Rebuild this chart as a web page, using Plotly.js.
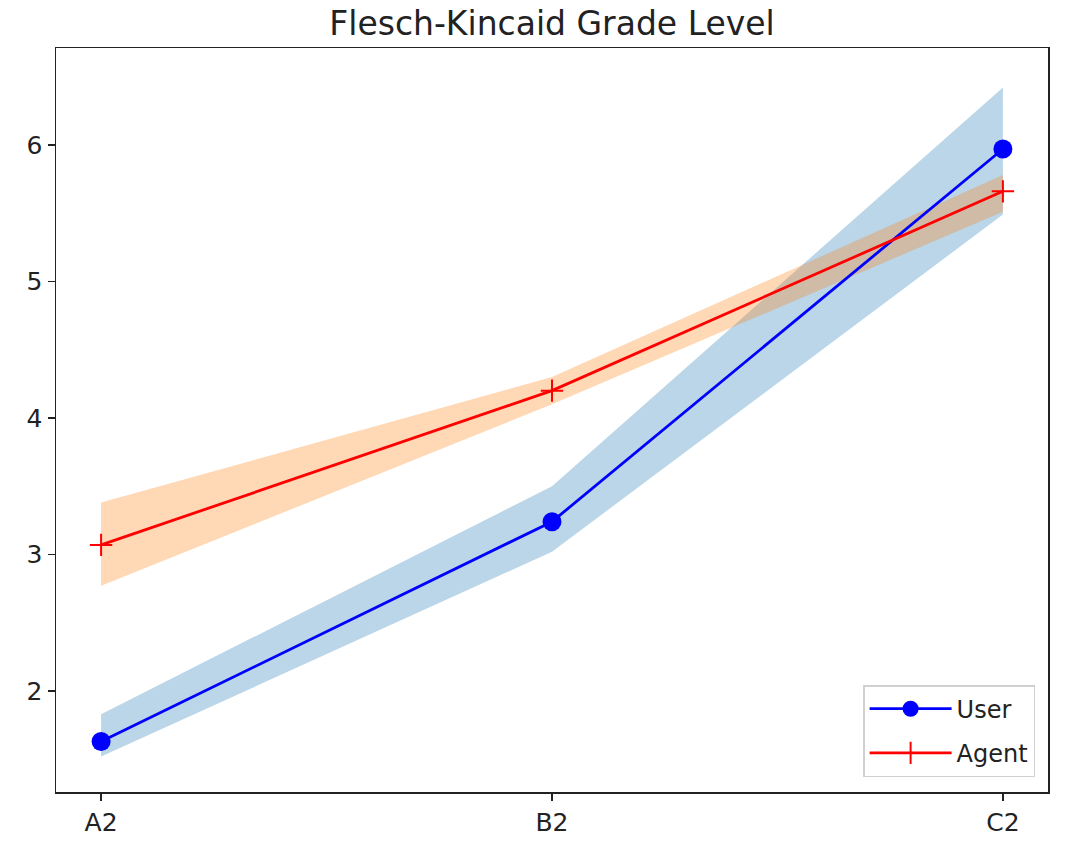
<!DOCTYPE html>
<html>
<head>
<meta charset="utf-8">
<script src="https://cdn.plot.ly/plotly-3.0.1.min.js"></script>
<style>html,body{margin:0;padding:0;background:#fff;}#chart{width:1075px;height:855px;}</style>
</head>
<body>
<div id="chart"></div>
<script>
const categories = ['A2', 'B2', 'C2'];
const userMean = [1.63, 3.24, 5.97];
const userLow = [1.52, 3.02, 5.49];
const userHigh = [1.83, 3.50, 6.42];
const agentMean = [3.07, 4.20, 5.66];
const agentLow = [2.77, 4.10, 5.51];
const agentHigh = [3.38, 4.30, 5.78];

function band(low, high, color) {
  return {
    x: categories.concat(categories.slice().reverse()),
    y: high.concat(low.slice().reverse()),
    fill: 'toself',
    fillcolor: color,
    line: {width: 0},
    mode: 'lines',
    hoverinfo: 'skip',
    showlegend: false,
    type: 'scatter'
  };
}

const traces = [
  band(userLow, userHigh, 'rgba(31,119,180,0.3)'),
  band(agentLow, agentHigh, 'rgba(255,127,14,0.3)'),
  {
    x: categories, y: userMean, name: 'User', type: 'scatter', mode: 'lines+markers',
    legendgroup: 'u',
    line: {color: '#0000ff', width: 2.8},
    marker: {color: '#0000ff', size: 19, symbol: 'circle'}
  },
  {
    x: categories, y: agentMean, name: 'Agent', type: 'scatter', mode: 'lines+markers',
    legendgroup: 'a',
    line: {color: '#ff0000', width: 2.8},
    marker: {color: '#ff0000', size: 16, symbol: 'cross-thin', line: {color: '#ff0000', width: 2}}
  }
];

const font = {family: 'DejaVu Sans', color: '#222', size: 24};
const layout = {
  width: 1075, height: 855,
  margin: {l: 56, r: 27, t: 48, b: 63},
  paper_bgcolor: '#fff', plot_bgcolor: '#fff',
  font: font,
  title: {text: 'Flesch-Kincaid Grade Level', font: {family: 'DejaVu Sans', size: 33, color: '#222'},
          x: 0.5, xref: 'paper', y: 0.973, yref: 'container', yanchor: 'middle'},
  xaxis: {
    type: 'category', range: [-0.1, 2.1],
    showline: true, mirror: true, linecolor: '#222', linewidth: 1.5,
    ticks: 'outside', ticklen: 7, tickwidth: 1.5, tickcolor: '#222',
    showgrid: false, zeroline: false, tickfont: {family: 'DejaVu Sans', color: '#222', size: 25}
  },
  yaxis: {
    range: [1.26, 6.71], dtick: 1, tick0: 0,
    showline: true, mirror: true, linecolor: '#222', linewidth: 1.5,
    ticks: 'outside', ticklen: 7, tickwidth: 1.5, tickcolor: '#222',
    showgrid: false, zeroline: false, tickfont: {family: 'DejaVu Sans', color: '#222', size: 25}
  },
  legend: {
    x: 0.987, y: 0.02, xanchor: 'right', yanchor: 'bottom',
    bgcolor: 'rgba(255,255,255,0.8)', bordercolor: '#d0d0d0', borderwidth: 1.5,
    font: font, itemwidth: 82, traceorder: 'grouped', tracegroupgap: 10
  },
  showlegend: true
};

Plotly.newPlot('chart', traces, layout, {displayModeBar: false, staticPlot: true});
</script>
</body>
</html>
